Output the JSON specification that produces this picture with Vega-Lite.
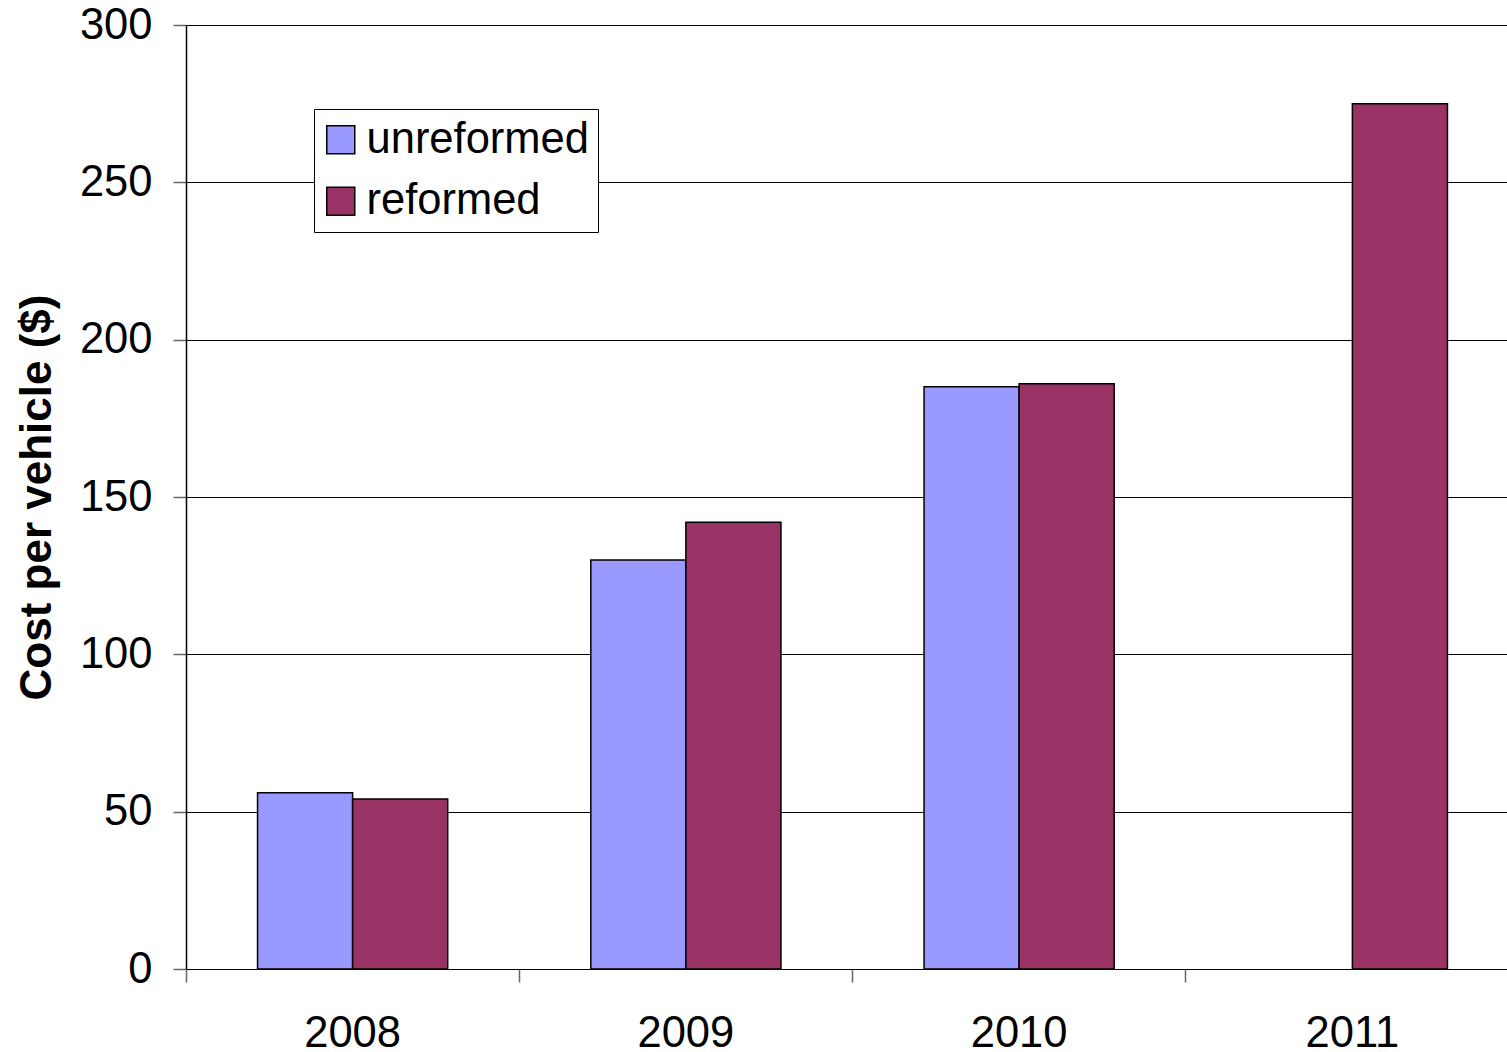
{
  "$schema": "https://vega.github.io/schema/vega-lite/v6.json",
  "autosize": {"type": "none"},
  "padding": {"left": 186, "top": 25, "right": 0, "bottom": 83},
  "width": 1321,
  "height": 944,
  "background": "white",
  "config": {
    "view": {"stroke": null},
    "font": "Liberation Sans"
  },
  "data": {
    "values": [
      {"year": "2008", "series": "unreformed", "cost": 56},
      {"year": "2008", "series": "reformed", "cost": 54},
      {"year": "2009", "series": "unreformed", "cost": 130},
      {"year": "2009", "series": "reformed", "cost": 142},
      {"year": "2010", "series": "unreformed", "cost": 185},
      {"year": "2010", "series": "reformed", "cost": 186},
      {"year": "2011", "series": "reformed", "cost": 275}
    ]
  },
  "mark": {"type": "bar", "stroke": "black", "strokeWidth": 1.5},
  "encoding": {
    "x": {
      "field": "year",
      "type": "nominal",
      "sort": ["2008", "2009", "2010", "2011"],
      "scale": {"domain": ["2008", "2009", "2010", "2011"], "range": [0, 1333], "paddingInner": 0, "paddingOuter": 0},
      "axis": {
        "title": null,
        "domain": false,
        "grid": false,
        "bandPosition": 0,
        "labelAngle": 0,
        "labelFont": "Liberation Sans",
        "labelFontSize": 43.5,
        "labelColor": "black",
        "labelPadding": 30,
        "tickSize": 13,
        "tickColor": "#666",
        "tickWidth": 1.5
      }
    },
    "xOffset": {
      "field": "series",
      "type": "nominal",
      "scale": {"domain": ["unreformed", "reformed"], "paddingInner": 0, "paddingOuter": 0.7526}
    },
    "y": {
      "field": "cost",
      "type": "quantitative",
      "scale": {"domain": [0, 300], "nice": false},
      "axis": {
        "title": "Cost per vehicle ($)",
        "titleFont": "Liberation Sans",
        "titleFontSize": 44,
        "titleFontWeight": "bold",
        "titleColor": "black",
        "titleAngle": 270,
        "titleAlign": "center",
        "titleBaseline": "middle",
        "titleX": -149,
        "titleY": 472,
        "values": [0, 50, 100, 150, 200, 250, 300],
        "labelFont": "Liberation Sans",
        "labelFontSize": 43.5,
        "labelColor": "black",
        "labelPadding": 21,
        "tickSize": 13,
        "tickColor": "#666",
        "tickWidth": 1.5,
        "domainColor": "black",
        "domainWidth": 1.5,
        "grid": true,
        "gridColor": "black",
        "gridWidth": 1.2,
        "gridOpacity": 1
      }
    },
    "color": {
      "field": "series",
      "type": "nominal",
      "scale": {"domain": ["unreformed", "reformed"], "range": ["#9999FF", "#993366"]},
      "legend": {
        "title": null,
        "orient": "none",
        "legendX": 128,
        "legendY": 84,
        "direction": "vertical",
        "strokeColor": "black",
        "fillColor": "white",
        "padding": 9,
        "rowPadding": 16.5,
        "symbolType": "square",
        "symbolSize": 784,
        "symbolOffset": -4,
        "symbolStrokeColor": "black",
        "symbolStrokeWidth": 1.5,
        "symbolOpacity": 1,
        "labelFont": "Liberation Sans",
        "labelFontSize": 43.5,
        "labelColor": "black",
        "labelOffset": 4,
        "labelLimit": 400
      }
    }
  }
}
